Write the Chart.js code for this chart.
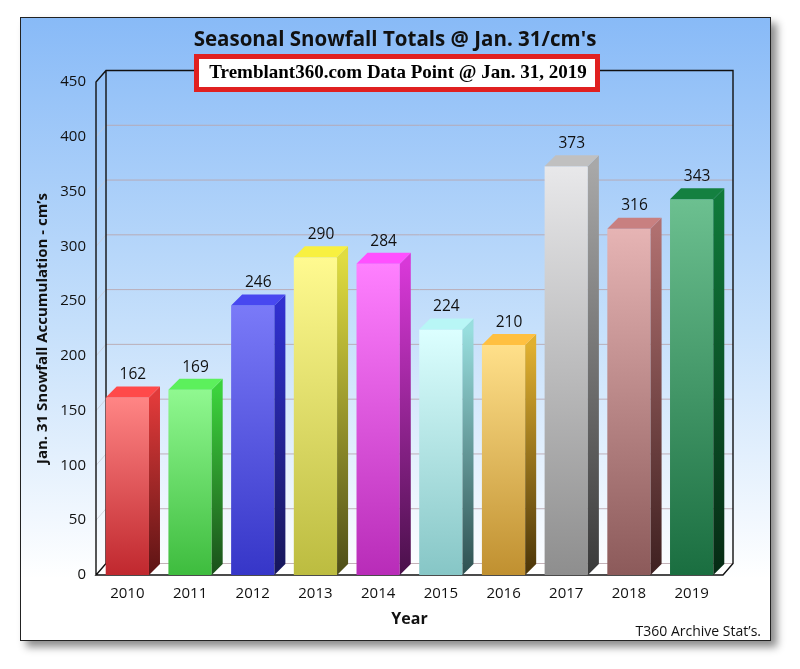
<!DOCTYPE html>
<html>
<head>
<meta charset="utf-8">
<script src="https://cdn.jsdelivr.net/npm/chart.js@4.4.1/dist/chart.umd.min.js"></script>
<style>
  html, body { margin: 0; padding: 0; background: #fff; }
  #wrap { position: relative; width: 800px; height: 669px; }
</style>
</head>
<body>
<div id="wrap"><canvas id="grafica"></canvas></div>
<script>
// datos
const years = ['2010', '2011', '2012', '2013', '2014', '2015', '2016', '2017', '2018', '2019'];
const snowfall = [162, 169, 246, 290, 284, 224, 210, 373, 316, 343];
const yTicks = [0, 50, 100, 150, 200, 250, 300, 350, 400, 450];

const chartTitle = "Seasonal Snowfall Totals @ Jan. 31/cm's";
const boxText = 'Tremblant360.com Data Point @ Jan. 31, 2019';
const footText = "T360 Archive Stat\u2019s.";

// colores: frente arriba, frente abajo, lado arriba, lado abajo, tapa
const barColors = [
    ['#ff8585', '#c0282e', '#e03a3a', '#5c1414', '#ff4a4a'],
    ['#90f890', '#3ebc3e', '#3cd23c', '#1a4f1a', '#5cf05c'],
    ['#7a7af8', '#3636c8', '#3030d0', '#16165a', '#4848f0'],
    ['#fffa90', '#bcbc40', '#e0dc40', '#4e4e18', '#f8f040'],
    ['#ff80ff', '#b82cb8', '#d838d8', '#4a104a', '#ff50ff'],
    ['#dcffff', '#86c6c6', '#98dede', '#2e5050', '#b8f6f6'],
    ['#ffe08a', '#c09030', '#e0b030', '#4a3408', '#ffc040'],
    ['#e8e8ea', '#8e8e8e', '#a8a8a8', '#3a3a3a', '#c0c0c0'],
    ['#e6b4b4', '#8c5a5a', '#b07070', '#3e2020', '#c88080'],
    ['#6cc090', '#1a6e40', '#107a3a', '#062a14', '#148040']
];

const WALL_DX = 10, WALL_DY = -11.5;   // profundidad de la pared
const BAR_DX = 11, BAR_DY = -11;      // profundidad de las barras

// fondo y marco
const fondoPlugin = {
    id: 'fondo',
    beforeDraw(chart) {
        const c = chart.ctx;
        const x = 20, y = 17, w = 751, h = 624;
        c.save();
        c.shadowColor = 'rgba(0,0,0,0.45)';
        c.shadowBlur = 8;
        c.shadowOffsetX = 6;
        c.shadowOffsetY = 6;
        c.fillStyle = '#fff';
        c.fillRect(x, y, w, h);
        c.restore();
        c.save();
        const g = c.createLinearGradient(0, y, 0, y + h);
        g.addColorStop(0, '#88baf7');
        g.addColorStop(0.5, '#c6e0fb');
        g.addColorStop(0.9, '#ffffff');
        g.addColorStop(1, '#ffffff');
        c.fillStyle = g;
        c.fillRect(x, y, w, h);
        c.strokeStyle = '#222';
        c.lineWidth = 1;
        c.strokeRect(x + 0.5, y + 0.5, w - 1, h - 1);
        c.restore();
    }
};

// pared de fondo, rejilla y piso
const paredPlugin = {
    id: 'pared',
    beforeDatasetsDraw(chart) {
        const c = chart.ctx;
        const { left, right, top, bottom } = chart.chartArea;
        const ys = chart.scales.y;
        c.save();
        // piso
        c.fillStyle = '#ffffff';
        c.beginPath();
        c.moveTo(left, bottom);
        c.lineTo(right, bottom);
        c.lineTo(right + WALL_DX, bottom + WALL_DY);
        c.lineTo(left + WALL_DX, bottom + WALL_DY);
        c.closePath();
        c.fill();
        // rejilla
        yTicks.forEach(v => {
            const py = ys.getPixelForValue(v);
            c.strokeStyle = 'rgba(185,165,172,0.85)';
            c.lineWidth = 1;
            c.beginPath();
            c.moveTo(left + WALL_DX, py + WALL_DY);
            c.lineTo(right + WALL_DX, py + WALL_DY);
            c.stroke();
            c.strokeStyle = 'rgba(200,200,210,0.7)';
            c.beginPath();
            c.moveTo(left, py);
            c.lineTo(left + WALL_DX, py + WALL_DY);
            c.stroke();
        });
        // bordes negros
        c.strokeStyle = '#111';
        c.lineWidth = 1.4;
        c.beginPath();
        c.moveTo(left, bottom); c.lineTo(left, top);
        c.lineTo(left + WALL_DX, top + WALL_DY);
        c.lineTo(right + WALL_DX, top + WALL_DY);
        c.lineTo(right + WALL_DX, bottom + WALL_DY);
        c.lineTo(right, bottom);
        c.lineTo(left, bottom);
        c.lineTo(left + WALL_DX, bottom + WALL_DY);
        c.moveTo(left + WALL_DX, top + WALL_DY);
        c.lineTo(left + WALL_DX, bottom + WALL_DY);
        c.stroke();
        c.restore();
    }
};

// caras laterales, tapas y valores
const barras3dPlugin = {
    id: 'barras3d',
    afterDatasetsDraw(chart) {
        const c = chart.ctx;
        const meta = chart.getDatasetMeta(0);
        c.save();
        meta.data.forEach((bar, i) => {
            const { x, y, base, width } = bar.getProps(['x', 'y', 'base', 'width'], true);
            const l = x - width / 2, r = x + width / 2;
            const col = barColors[i];
            const gs = c.createLinearGradient(0, y, 0, base);
            gs.addColorStop(0, col[2]);
            gs.addColorStop(1, col[3]);
            c.fillStyle = gs;
            c.beginPath();
            c.moveTo(r, y);
            c.lineTo(r + BAR_DX, y + BAR_DY);
            c.lineTo(r + BAR_DX, base + BAR_DY);
            c.lineTo(r, base);
            c.closePath();
            c.fill();
            c.fillStyle = col[4];
            c.beginPath();
            c.moveTo(l, y);
            c.lineTo(l + BAR_DX, y + BAR_DY);
            c.lineTo(r + BAR_DX, y + BAR_DY);
            c.lineTo(r, y);
            c.closePath();
            c.fill();
            c.fillStyle = '#111';
            c.font = '15.5px "Open Sans"';
            c.textAlign = 'center';
            c.textBaseline = 'bottom';
            c.fillText(String(snowfall[i]), x + BAR_DX / 2, y + BAR_DY - 4);
        });
        c.restore();
    }
};

// titulos y textos
const textosPlugin = {
    id: 'textos',
    afterDraw(chart) {
        const c = chart.ctx;
        c.save();
        c.fillStyle = '#111';
        c.textAlign = 'center';
        c.textBaseline = 'middle';
        c.font = 'bold 20.5px "Open Sans"';
        c.fillText(chartTitle, 395, 40);
        // caja roja
        c.fillStyle = '#e02020';
        c.fillRect(194, 54, 406, 38);
        c.fillStyle = '#ffffff';
        c.fillRect(199, 59, 396, 28);
        c.fillStyle = '#000';
        c.font = 'bold 19px "Liberation Serif"';
        c.fillText(boxText, 398, 73);
        c.textAlign = 'right';
        c.font = '14px "Open Sans"';
        c.fillStyle = '#111';
        c.fillText(footText, 761, 632);
        c.restore();
    }
};

const ctx = document.getElementById('grafica').getContext('2d');

new Chart(ctx, {
    type: 'bar',
    data: {
        labels: years,
        datasets: [{
            label: 'Snowfall',
            data: snowfall,
            borderWidth: 0,
            backgroundColor: (context) => {
                const i = context.dataIndex;
                const chart = context.chart;
                if (!chart.chartArea || i === undefined) return barColors[0][0];
                const ys = chart.scales.y;
                const y0 = ys.getPixelForValue(snowfall[i]);
                const y1 = ys.getPixelForValue(0);
                const g = chart.ctx.createLinearGradient(0, y0, 0, y1);
                g.addColorStop(0, barColors[i][0]);
                g.addColorStop(1, barColors[i][1]);
                return g;
            },
            categoryPercentage: 1,
            barPercentage: 0.69
        }]
    },
    options: {
        responsive: true,
        maintainAspectRatio: false,
        animation: false,
        layout: { padding: { left: 20, right: 77, top: 82, bottom: 28 } },
        plugins: {
            legend: { display: false },
            title: { display: false },
            tooltip: { enabled: false }
        },
        scales: {
            x: {
                grid: { display: false, drawTicks: false },
                border: { display: false },
                ticks: { color: '#111', font: { family: 'Open Sans', size: 15 }, padding: 10 },
                title: {
                    display: true,
                    text: 'Year',
                    color: '#111',
                    font: { family: 'Open Sans', size: 16, weight: 'bold' },
                    padding: { top: 4, bottom: 12 }
                },
                afterFit(scale) { scale.height = 66; }
            },
            y: {
                min: 0,
                max: 450,
                grid: { display: false, drawTicks: false },
                border: { display: false },
                ticks: {
                    stepSize: 50,
                    color: '#111',
                    font: { family: 'Open Sans', size: 15 },
                    padding: 10
                },
                title: {
                    display: true,
                    text: "Jan. 31 Snowfall Accumulation - cm\u2019s",
                    color: '#111',
                    font: { family: 'Open Sans', size: 15, weight: 'bold' },
                    padding: { top: 14, bottom: 4 }
                },
                afterFit(scale) { scale.width = 76; }
            }
        }
    },
    plugins: [fondoPlugin, paredPlugin, barras3dPlugin, textosPlugin]
});
</script>
</body>
</html>
